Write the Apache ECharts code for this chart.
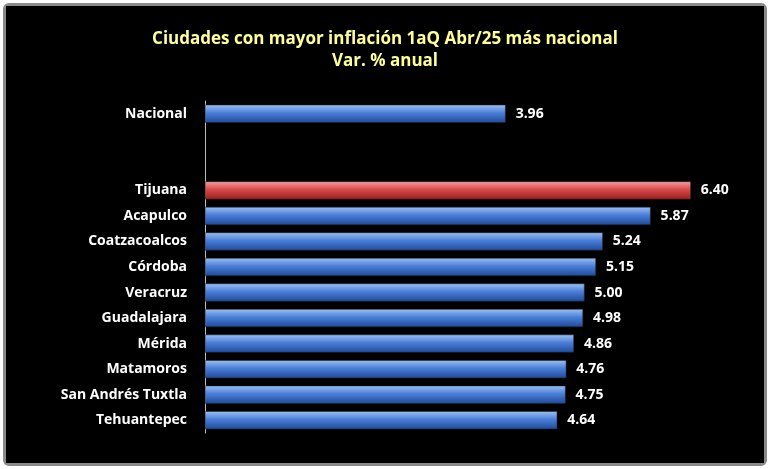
<!DOCTYPE html>
<html><head><meta charset="utf-8">
<script src="https://cdn.jsdelivr.net/npm/echarts@6/dist/echarts.min.js"></script>
<style>html,body{margin:0;padding:0;background:#fff}
#f{position:absolute;left:3px;top:3px;width:758px;height:457px;background:#000;border:3px solid #8a8a8a;border-radius:6px}
#c{width:758px;height:457px}</style></head><body>
<div id="f"><div id="c"></div></div>
<script>
const categories=["Nacional","","","Tijuana","Acapulco","Coatzacoalcos","Córdoba","Veracruz","Guadalajara","Mérida","Matamoros","San Andrés Tuxtla","Tehuantepec"];
const values=[3.96,null,null,6.40,5.87,5.24,5.15,5.00,4.98,4.86,4.76,4.75,4.64];
const highlight="Tijuana";
const blue={type:'linear',x:0,y:0,x2:0,y2:1,colorStops:[{offset:0,color:'#9cc0f5'},{offset:0.45,color:'#4a7fd8'},{offset:1,color:'#1f4a9a'}]};
const red={type:'linear',x:0,y:0,x2:0,y2:1,colorStops:[{offset:0,color:'#f5a0a0'},{offset:0.45,color:'#d84a4a'},{offset:1,color:'#9a1f1f'}]};
const ch=echarts.init(document.getElementById('c'));
ch.setOption({
 backgroundColor:'#000',
 title:{text:'Ciudades con mayor inflación 1aQ Abr/25 más nacional\nVar. % anual',left:'center',top:17,
  textStyle:{color:'#ffff99',fontSize:17,fontWeight:'bold',fontFamily:'Open Sans',lineHeight:22}},
 grid:{left:199,right:20,top:95,bottom:30},
 xAxis:{type:'value',min:0,max:7.1,show:false},
 yAxis:{type:'category',inverse:true,data:categories,
  axisLine:{lineStyle:{color:'#bbb'}},axisTick:{show:false},
  axisLabel:{color:'#fff',fontWeight:'bold',fontSize:14,fontFamily:'Open Sans',margin:18}},
 series:[{type:'bar',barWidth:18,
  data:values.map((v,i)=>({value:v,itemStyle:{color:categories[i]===highlight?red:blue,borderColor:'#222',borderWidth:0.5}})),
  label:{show:true,position:'right',distance:10,color:'#fff',fontWeight:'bold',fontSize:14,fontFamily:'Open Sans',
   formatter:p=>p.value==null?'':p.value.toFixed(2)}}]
});
</script></body></html>
